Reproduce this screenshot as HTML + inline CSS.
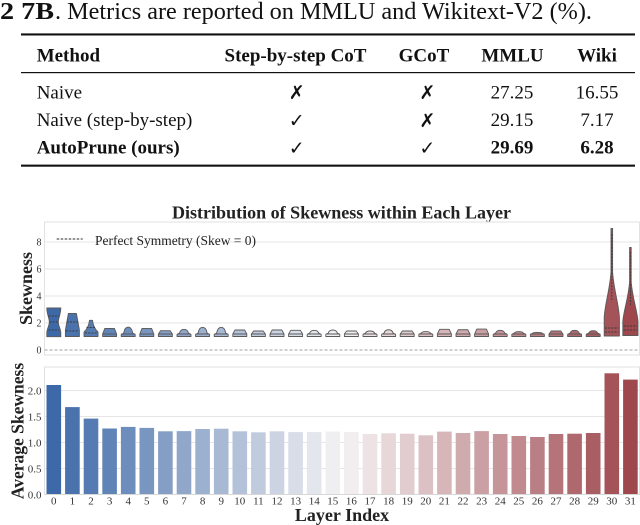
<!DOCTYPE html>
<html>
<head>
<meta charset="utf-8">
<style>
html,body{margin:0;padding:0;background:#fff;}
svg{display:block;}
.serif{font-family:"Liberation Serif","DejaVu Serif",serif;}
.sym{font-family:"DejaVu Sans",sans-serif;}
</style>
</head>
<body>
<svg width="640" height="525" viewBox="0 0 640 525" xmlns="http://www.w3.org/2000/svg">
<rect x="0" y="0" width="640" height="525" fill="#fff"/>

<!-- ===== Caption & Table ===== -->
<g class="serif" fill="#111">
  <text x="0" y="19" font-size="24" font-weight="bold" textLength="54" lengthAdjust="spacingAndGlyphs">2 7B</text>
  <text x="55" y="19" font-size="24" textLength="537" lengthAdjust="spacingAndGlyphs">. Metrics are reported on MMLU and Wikitext-V2 (%).</text>

  <rect x="21" y="33.4" width="614" height="2.1" fill="#111"/>
  <rect x="21" y="72" width="614" height="1.2" fill="#111"/>
  <rect x="21" y="164.6" width="614" height="2.1" fill="#111"/>

  <g font-size="19" font-weight="bold">
    <text x="36.7" y="61.5">Method</text>
    <text x="295.5" y="61.5" text-anchor="middle">Step-by-step CoT</text>
    <text x="424" y="61.5" text-anchor="middle">GCoT</text>
    <text x="512.5" y="61.5" text-anchor="middle">MMLU</text>
    <text x="597" y="61.5" text-anchor="middle">Wiki</text>
  </g>
  <g font-size="19">
    <text x="36.7" y="98.5">Naive</text>
    <text x="36.7" y="126">Naive (step-by-step)</text>
    <text x="512" y="98.5" text-anchor="middle">27.25</text>
    <text x="597" y="98.5" text-anchor="middle">16.55</text>
    <text x="512" y="126" text-anchor="middle">29.15</text>
    <text x="597" y="126" text-anchor="middle">7.17</text>
  </g>
  <g font-size="19" font-weight="bold">
    <text x="36.7" y="153.5">AutoPrune (ours)</text>
    <text x="512" y="153.5" text-anchor="middle">29.69</text>
    <text x="597" y="153.5" text-anchor="middle">6.28</text>
  </g>
</g>
<g class="sym" font-size="19" fill="#111" text-anchor="middle">
  <text x="296.7" y="99">✗</text>
  <text x="427.3" y="99">✗</text>
  <text x="296.7" y="127">✓</text>
  <text x="427.3" y="127">✗</text>
  <text x="296.7" y="154.5">✓</text>
  <text x="427.3" y="154.5">✓</text>
</g>

<!-- ===== Chart title ===== -->
<text class="serif" x="341.5" y="218.3" font-size="18" font-weight="bold" fill="#222" text-anchor="middle" textLength="339" lengthAdjust="spacingAndGlyphs">Distribution of Skewness within Each Layer</text>

<!-- ===== Top subplot (violins) ===== -->
<g>
  <rect x="44.5" y="222" width="595" height="133" fill="#fff" stroke="#e2e2e2" stroke-width="1"/>
  <g stroke="#e6e6e6" stroke-width="1">
    <line x1="44.5" y1="242" x2="639.5" y2="242"/>
    <line x1="44.5" y1="269" x2="639.5" y2="269"/>
    <line x1="44.5" y1="296" x2="639.5" y2="296"/>
    <line x1="44.5" y1="323" x2="639.5" y2="323"/>
  </g>
  <line x1="44.5" y1="350" x2="639.5" y2="350" stroke="#a0a0a0" stroke-width="1" stroke-dasharray="3,2"/>
  <g class="serif" font-size="10" fill="#333" text-anchor="end">
    <text x="41.5" y="245.5">8</text>
    <text x="41.5" y="272.5">6</text>
    <text x="41.5" y="299.5">4</text>
    <text x="41.5" y="326.5">2</text>
    <text x="41.5" y="353.5">0</text>
  </g>
  <!-- legend -->
  <line x1="56.7" y1="239" x2="82.7" y2="239" stroke="#555" stroke-width="1.2" stroke-dasharray="2.5,1.5"/>
  <text class="serif" x="95" y="245" font-size="13.5" fill="#222" textLength="161" lengthAdjust="spacingAndGlyphs">Perfect Symmetry (Skew = 0)</text>

  <g stroke="#5a5a5a" stroke-width="0.9" stroke-linejoin="round">
    <!-- layer 0 -->
    <path d="M46.8 308H60.8C60.8 314 58.3 318 58.3 322C58.3 326 60.8 329 60.8 333V336.7H46.8V333C46.8 329 49.3 326 49.3 322C49.3 318 46.8 314 46.8 308Z" fill="#3e69a8"/>
    <!-- layer 1 -->
    <path d="M68.4 313.5H76.4L79.4 330V336.5H65.4V330Z" fill="#4a72ad"/>
    <!-- layer 2 -->
    <path d="M89.5 320.3H92.5Q93.5 328 98 332V336.5H84V332Q88.5 328 89.5 320.3Z" fill="#567bb2"/>
    <!-- small violins -->
    <path d="M102.6 336.5V334L104.8 328.4H114.4L116.6 334V336.5ZM102.6 334H116.6" fill="#6184b7"/>
    <path d="M121.2 336.5V334.5L123.7 333Q124.7 327.05 128.2 327.05Q131.7 327.05 132.7 333L135.2 334.5V336.5ZM121.2 334H135.2" fill="#6d8dbc"/>
    <path d="M139.8 336.5V334L142 328.4H151.6L153.8 334V336.5ZM139.8 334H153.8" fill="#7996c1"/>
    <path d="M158.4 336.5V334L160.6 330.7H170.2L172.4 334V336.5ZM158.4 334H172.4" fill="#859ec5"/>
    <path d="M177 336.5V334.5L179.5 333Q180.5 329.35 184 329.35Q187.5 329.35 188.5 333L191 334.5V336.5ZM177 334H191" fill="#91a7ca"/>
    <path d="M195.6 336.5V334.5L198.1 333Q199.1 327.3 202.6 327.3Q206.1 327.3 207.1 333L209.6 334.5V336.5ZM195.6 334H209.6" fill="#9cb0cf"/>
    <path d="M214.2 336.5V334.5L216.7 333Q217.7 327.3 221.2 327.3Q224.7 327.3 225.7 333L228.2 334.5V336.5ZM214.2 334H228.2" fill="#a8b9d4"/>
    <path d="M232.8 336.5V334L235 330H244.6L246.8 334V336.5ZM232.8 334H246.8" fill="#b4c2d9"/>
    <path d="M251.4 336.5V334L253.6 331H263.2L265.4 334V336.5ZM251.4 334H265.4" fill="#c0cbde"/>
    <path d="M270 336.5V334L272.2 330H281.8L284 334V336.5ZM270 334H284" fill="#ccd4e3"/>
    <path d="M288.6 336.5V334L290.8 330.3H300.4L302.6 334V336.5ZM288.6 334H302.6" fill="#d8dde8"/>
    <path d="M307.2 336.5V334.5L309.7 333Q310.7 330.3 314.2 330.3Q317.7 330.3 318.7 333L321.2 334.5V336.5ZM307.2 334H321.2" fill="#e3e6ed"/>
    <path d="M325.8 336.5V334.5L328.3 333Q329.3 330 332.8 330Q336.3 330 337.3 333L339.8 334.5V336.5ZM325.8 334H339.8" fill="#efeff2"/>
    <path d="M344.4 336.5V334L346.6 331H356.2L358.4 334V336.5ZM344.4 334H358.4" fill="#f2edef"/>
    <path d="M363 336.5V334.5L365.5 333Q366.5 331 370 331Q373.5 331 374.5 333L377 334.5V336.5ZM363 334H377" fill="#ede2e4"/>
    <path d="M381.6 336.5V334.5L384.1 333Q385.1 329.75 388.6 329.75Q392.1 329.75 393.1 333L395.6 334.5V336.5ZM381.6 334H395.6" fill="#e7d7d9"/>
    <path d="M400.2 336.5V334L402.4 331H412L414.2 334V336.5ZM400.2 334H414.2" fill="#e1cccf"/>
    <path d="M418.8 336.5V334.5L421.3 333Q422.3 331.6 425.8 331.6Q429.3 331.6 430.3 333L432.8 334.5V336.5ZM418.8 334H432.8" fill="#dcc1c4"/>
    <path d="M437.4 336.5V334L439.6 329.35H449.2L451.4 334V336.5ZM437.4 334H451.4" fill="#d6b6b9"/>
    <path d="M456 336.5V334L458.2 329.75H467.8L470 334V336.5ZM456 334H470" fill="#d0abae"/>
    <path d="M474.6 336.5V334L476.8 329.1H486.4L488.6 334V336.5ZM474.6 334H488.6" fill="#cba0a4"/>
    <path d="M493.2 336.5V334.5L495.7 333Q496.7 330.3 500.2 330.3Q503.7 330.3 504.7 333L507.2 334.5V336.5ZM493.2 334H507.2" fill="#c59599"/>
    <path d="M511.8 336.5V334.5L514.3 333Q515.3 331.6 518.8 331.6Q522.3 331.6 523.3 333L525.8 334.5V336.5ZM511.8 334H525.8" fill="#c08a8e"/>
    <path d="M530.4 336.5V334.5L532.9 333Q533.9 332.3 537.4 332.3Q540.9 332.3 541.9 333L544.4 334.5V336.5ZM530.4 334H544.4" fill="#ba7f84"/>
    <path d="M549 336.5V334L551.2 331H560.8L563 334V336.5ZM549 334H563" fill="#b47479"/>
    <path d="M567.6 336.5V334.5L570.1 333Q571.1 330.3 574.6 330.3Q578.1 330.3 579.1 333L581.6 334.5V336.5ZM567.6 334H581.6" fill="#af696e"/>
    <path d="M586.2 336.5V334.5L588.7 333Q589.7 330.7 593.2 330.7Q596.7 330.7 597.7 333L600.2 334.5V336.5ZM586.2 334H600.2" fill="#a95e63"/>
    <!-- layer 30 -->
    <path d="M611 228.5H612.6V272C613.8 290 619 305 619.4 318V336H604.2V318C604.6 305 609.8 290 611 272Z" fill="#a45359"/>
    <!-- layer 31 -->
    <path d="M629.6 247.5H631.2V282C632.4 298 637.6 312 638 322V335.5H622.8V322C623.2 312 628.4 298 629.6 282Z" fill="#9e484e"/>
  </g>
  <!-- quartile dashes -->
  <g stroke="#3a3a3a" stroke-width="0.9" stroke-dasharray="2,1.2" fill="none">
    <path d="M48.5 330H59.1M49.6 322H58M48.5 316H59.1"/>
    <path d="M66.8 322H78M66 331H78.8"/>
    <path d="M86.5 327.5H95.5M85 333H97"/>
    <path d="M611.8 234V300"/>
    <path d="M605 328H618.6M605 332H618.6"/>
    <path d="M630.4 252V305"/>
    <path d="M623.6 326H637.2M623.6 330H637.2"/>
  </g>
  <text class="serif" transform="translate(32,288.5) rotate(-90)" font-size="18" font-weight="bold" fill="#222" text-anchor="middle">Skewness</text>
</g>

<!-- ===== Bottom subplot (bars) ===== -->
<g>
  <rect x="44.5" y="367" width="595" height="127.5" fill="#fff" stroke="#e0e0e0" stroke-width="1"/>
  <g stroke="#e6e6e6" stroke-width="1">
    <line x1="44.5" y1="390.5" x2="639.5" y2="390.5"/>
    <line x1="44.5" y1="416.5" x2="639.5" y2="416.5"/>
    <line x1="44.5" y1="442.5" x2="639.5" y2="442.5"/>
    <line x1="44.5" y1="468.5" x2="639.5" y2="468.5"/>
  </g>
  <g>
    <rect x="46.5" y="385" width="14.6" height="109.5" fill="#3e69a8"/>
    <rect x="65.1" y="407.1" width="14.6" height="87.4" fill="#4a72ad"/>
    <rect x="83.7" y="418.6" width="14.6" height="75.9" fill="#567bb2"/>
    <rect x="102.3" y="428.5" width="14.6" height="66" fill="#6184b7"/>
    <rect x="120.9" y="426.9" width="14.6" height="67.6" fill="#6d8dbc"/>
    <rect x="139.5" y="427.9" width="14.6" height="66.6" fill="#7996c1"/>
    <rect x="158.1" y="431.3" width="14.6" height="63.2" fill="#859ec5"/>
    <rect x="176.7" y="431.1" width="14.6" height="63.4" fill="#91a7ca"/>
    <rect x="195.3" y="429" width="14.6" height="65.5" fill="#9cb0cf"/>
    <rect x="213.9" y="428.7" width="14.6" height="65.8" fill="#a8b9d4"/>
    <rect x="232.5" y="431.3" width="14.6" height="63.2" fill="#b4c2d9"/>
    <rect x="251.1" y="432.3" width="14.6" height="62.2" fill="#c0cbde"/>
    <rect x="269.7" y="431.3" width="14.6" height="63.2" fill="#ccd4e3"/>
    <rect x="288.3" y="432.1" width="14.6" height="62.4" fill="#d8dde8"/>
    <rect x="306.9" y="432.1" width="14.6" height="62.4" fill="#e3e6ed"/>
    <rect x="325.5" y="431.6" width="14.6" height="62.9" fill="#efeff2"/>
    <rect x="344.1" y="432.1" width="14.6" height="62.4" fill="#f2edef"/>
    <rect x="362.7" y="434" width="14.6" height="60.5" fill="#ede2e4"/>
    <rect x="381.3" y="433.3" width="14.6" height="61.2" fill="#e7d7d9"/>
    <rect x="399.9" y="433.7" width="14.6" height="60.8" fill="#e1cccf"/>
    <rect x="418.5" y="435.3" width="14.6" height="59.2" fill="#dcc1c4"/>
    <rect x="437.1" y="431.6" width="14.6" height="62.9" fill="#d6b6b9"/>
    <rect x="455.7" y="433" width="14.6" height="61.5" fill="#d0abae"/>
    <rect x="474.3" y="431.1" width="14.6" height="63.4" fill="#cba0a4"/>
    <rect x="492.9" y="434" width="14.6" height="60.5" fill="#c59599"/>
    <rect x="511.5" y="436" width="14.6" height="58.5" fill="#c08a8e"/>
    <rect x="530.1" y="437" width="14.6" height="57.5" fill="#ba7f84"/>
    <rect x="548.7" y="434" width="14.6" height="60.5" fill="#b47479"/>
    <rect x="567.3" y="433.7" width="14.6" height="60.8" fill="#af696e"/>
    <rect x="585.9" y="433" width="14.6" height="61.5" fill="#a95e63"/>
    <rect x="604.5" y="373.3" width="14.6" height="121.2" fill="#a45359"/>
    <rect x="623.1" y="379.6" width="14.6" height="114.9" fill="#9e484e"/>
  </g>
  <line x1="44.5" y1="494.5" x2="639.5" y2="494.5" stroke="#d8d8d8" stroke-width="1"/>
  <g class="serif" font-size="11" fill="#333" text-anchor="end">
    <text x="41.5" y="394.3">2.0</text>
    <text x="41.5" y="420.3">1.5</text>
    <text x="41.5" y="446.3">1.0</text>
    <text x="41.5" y="472.3">0.5</text>
    <text x="41.5" y="498.3">0.0</text>
  </g>
  <g class="serif" font-size="11" fill="#333" text-anchor="middle">
    <text x="53.8" y="504.5">0</text>
    <text x="72.4" y="504.5">1</text>
    <text x="91" y="504.5">2</text>
    <text x="109.6" y="504.5">3</text>
    <text x="128.2" y="504.5">4</text>
    <text x="146.8" y="504.5">5</text>
    <text x="165.4" y="504.5">6</text>
    <text x="184" y="504.5">7</text>
    <text x="202.6" y="504.5">8</text>
    <text x="221.2" y="504.5">9</text>
    <text x="239.8" y="504.5">10</text>
    <text x="258.4" y="504.5">11</text>
    <text x="277" y="504.5">12</text>
    <text x="295.6" y="504.5">13</text>
    <text x="314.2" y="504.5">14</text>
    <text x="332.8" y="504.5">15</text>
    <text x="351.4" y="504.5">16</text>
    <text x="370" y="504.5">17</text>
    <text x="388.6" y="504.5">18</text>
    <text x="407.2" y="504.5">19</text>
    <text x="425.8" y="504.5">20</text>
    <text x="444.4" y="504.5">21</text>
    <text x="463" y="504.5">22</text>
    <text x="481.6" y="504.5">23</text>
    <text x="500.2" y="504.5">24</text>
    <text x="518.8" y="504.5">25</text>
    <text x="537.4" y="504.5">26</text>
    <text x="556" y="504.5">27</text>
    <text x="574.6" y="504.5">28</text>
    <text x="593.2" y="504.5">29</text>
    <text x="611.8" y="504.5">30</text>
    <text x="630.4" y="504.5">31</text>
  </g>
  <text class="serif" transform="translate(23.5,431) rotate(-90)" font-size="17.5" font-weight="bold" fill="#222" text-anchor="middle">Average Skewness</text>
  <text class="serif" x="342" y="521" font-size="18" font-weight="bold" fill="#222" text-anchor="middle">Layer Index</text>
</g>
</svg>
</body>
</html>
